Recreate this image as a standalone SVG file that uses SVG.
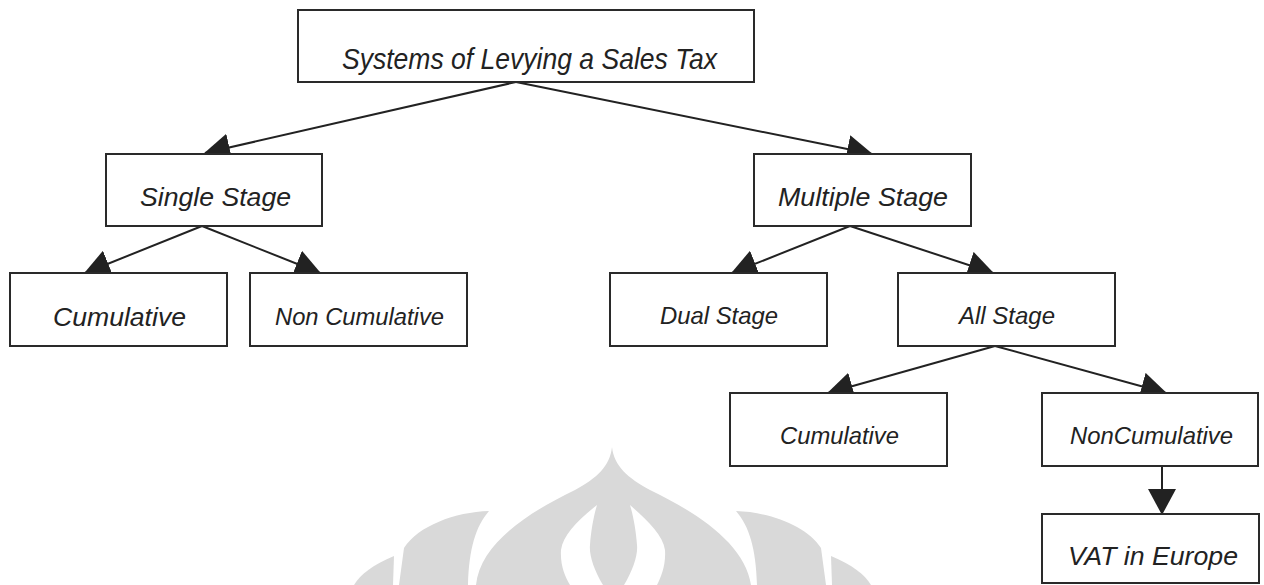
<svg xmlns="http://www.w3.org/2000/svg" width="1264" height="585" viewBox="0 0 1264 585">
<style>
.box{fill:#fff;stroke:#2a2a2a;stroke-width:2}
.lbl{font-family:"Liberation Sans",Arial,sans-serif;font-style:italic;fill:#222}
.edge{stroke:#222;stroke-width:2;fill:none;marker-end:url(#ah)}
.wm{fill:#d9d9d9}
.wmw{fill:#fff}
</style>
<defs>
<marker id="ah" markerUnits="userSpaceOnUse" markerWidth="26" markerHeight="28" viewBox="0 0 26 28" refX="25" refY="14" orient="auto">
<path d="M0,0 L26,14 L0,28 Z" fill="#222"/>
</marker>
</defs>
<rect width="1264" height="585" fill="#fff"/>
<g id="watermark">
<path class="wm" d="M612,447 C614,466 628,478 650,490 C700,514 745,545 751,585 L476,585 C480,545 525,514 575,490 C597,478 610,466 612,447 Z"/>
<path class="wm" d="M489,511 C455,512 418,526 404,548 L399,585 L468,585 C469,548 476,526 489,511 Z"/>
<path class="wm" d="M736,511 C770,512 807,526 821,548 L826,585 L757,585 C756,548 749,526 736,511 Z"/>
<path class="wm" d="M394,556 C372,565 360,575 354,585 L393,585 Z"/>
<path class="wm" d="M831,556 C853,565 865,575 871,585 L832,585 Z"/>
<path class="wmw" d="M597,505 C578,520 563,535 561,550 C560,565 565,577 570,585 L603,585 C594,570 589,555 590,545 C591,530 594,515 597,505 Z"/>
<path class="wmw" d="M630,505 C647,520 663,535 665,550 C666,565 661,577 657,585 L624,585 C633,570 638,555 637,545 C636,530 633,515 630,505 Z"/>
</g>
<g id="connectors">
<line class="edge" x1="516" y1="82" x2="205" y2="153"/>
<line class="edge" x1="516" y1="82" x2="872" y2="154"/>
<line class="edge" x1="202" y1="226" x2="85" y2="273"/>
<line class="edge" x1="202" y1="226" x2="320" y2="273"/>
<line class="edge" x1="850" y1="226" x2="732" y2="273"/>
<line class="edge" x1="850" y1="226" x2="993" y2="273"/>
<line class="edge" x1="995" y1="346" x2="828" y2="393"/>
<line class="edge" x1="995" y1="346" x2="1166" y2="393"/>
<line class="edge" x1="1162" y1="466" x2="1162" y2="514"/>
</g>
<g id="n-root">
<rect class="box" x="298" y="10" width="456" height="72"/>
<text class="lbl" x="342" y="69" font-size="30" textLength="375" lengthAdjust="spacingAndGlyphs">Systems of Levying a Sales Tax</text>
</g>
<g id="n-single">
<rect class="box" x="106" y="154" width="216" height="72"/>
<text class="lbl" x="140" y="205.5" font-size="26.5" textLength="151" lengthAdjust="spacingAndGlyphs">Single Stage</text>
</g>
<g id="n-single-cum">
<rect class="box" x="10" y="273" width="217" height="73"/>
<text class="lbl" x="53" y="325.5" font-size="25.5" textLength="133" lengthAdjust="spacingAndGlyphs">Cumulative</text>
</g>
<g id="n-single-noncum">
<rect class="box" x="250" y="273" width="217" height="73"/>
<text class="lbl" x="275" y="324.5" font-size="24.5" textLength="169" lengthAdjust="spacingAndGlyphs">Non Cumulative</text>
</g>
<g id="n-multiple">
<rect class="box" x="754" y="154" width="217" height="72"/>
<text class="lbl" x="778" y="205.5" font-size="26.5" textLength="170" lengthAdjust="spacingAndGlyphs">Multiple Stage</text>
</g>
<g id="n-dual">
<rect class="box" x="610" y="273" width="217" height="73"/>
<text class="lbl" x="660" y="323.5" font-size="24" textLength="118" lengthAdjust="spacingAndGlyphs">Dual Stage</text>
</g>
<g id="n-all">
<rect class="box" x="898" y="273" width="217" height="73"/>
<text class="lbl" x="959" y="323.5" font-size="24" textLength="96" lengthAdjust="spacingAndGlyphs">All Stage</text>
</g>
<g id="n-all-cum">
<rect class="box" x="730" y="393" width="217" height="73"/>
<text class="lbl" x="780" y="443.5" font-size="24" textLength="119" lengthAdjust="spacingAndGlyphs">Cumulative</text>
</g>
<g id="n-all-noncum">
<rect class="box" x="1042" y="393" width="216" height="73"/>
<text class="lbl" x="1070" y="443.5" font-size="24" textLength="163" lengthAdjust="spacingAndGlyphs">NonCumulative</text>
</g>
<g id="n-vat">
<rect class="box" x="1042" y="514" width="217" height="69"/>
<text class="lbl" x="1068" y="565" font-size="26" textLength="170" lengthAdjust="spacingAndGlyphs">VAT in Europe</text>
</g>
</svg>
